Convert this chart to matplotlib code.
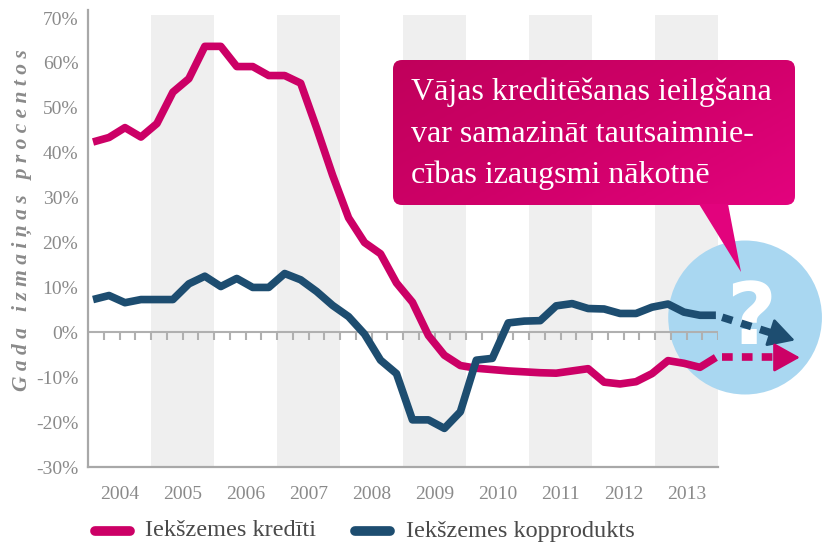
import numpy as np
import matplotlib
matplotlib.use("Agg")
import matplotlib.pyplot as plt
from matplotlib.patches import Ellipse, FancyBboxPatch, Polygon
from matplotlib.colors import LinearSegmentedColormap

# ---------------- data ----------------
years = [2004, 2005, 2006, 2007, 2008, 2009, 2010, 2011, 2012, 2013]
shaded_years = [2005, 2007, 2009, 2011, 2013]
quarters = np.arange(40)
t = 2004.08 + quarters * 0.2535

credit = [42.4, 43.4, 45.6, 43.5, 46.5, 53.5, 56.5, 63.7, 63.7, 59.2,
          59.2, 57.2, 57.2, 55.5, 45.5, 35.0, 25.5, 20.0, 17.5, 11.0,
          6.7, -0.7, -5.1, -7.4, -8.0, -8.3, -8.6, -8.8, -9.0, -9.1,
          -8.6, -8.1, -11.1, -11.5, -11.0, -9.2, -6.3, -6.9, -7.8, -5.6]
gdp = [7.3, 8.2, 6.6, 7.3, 7.3, 7.3, 10.8, 12.5, 10.2, 12.0,
       10.0, 10.0, 13.1, 11.7, 9.1, 6.0, 3.5, -0.4, -6.2, -9.2,
       -19.5, -19.5, -21.4, -17.7, -6.2, -5.8, 2.1, 2.5, 2.6, 5.9,
       6.4, 5.3, 5.2, 4.2, 4.2, 5.6, 6.3, 4.5, 3.8, 3.8]

yticks = list(range(-30, 71, 10))
ytick_labels = [f"{v}%" for v in yticks]
legend_labels = ["Iekšzemes kredīti", "Iekšzemes kopprodukts"]
callout_lines = ["Vājas kreditēšanas ieilgšana",
                 "var samazināt tautsaimnie-",
                 "cības izaugsmi nākotnē"]
ylabel = "G a d a   i z m a i ņ a s   p r o c e n t o s"

# projection arrows (end positions in years / percent)
gdp_proj_end = (2015.22, -1.8)
credit_proj_end_x = 2015.30

PINK = "#cc0066"
BLUE = "#1d4d70"
GRAY_TXT = "#8a8a8a"
AXIS = "#a8a8a8"
SERIF = ["Liberation Serif", "DejaVu Serif"]

W, H = 823, 545
fig = plt.figure(figsize=(W / 100, H / 100), dpi=100)
ax = fig.add_axes([88 / W, 1 - 467 / H, (718 - 88) / W, (467 - 10) / H])
ax.set_xlim(2004, 2014)
ax.set_ylim(-30, 71.8)

# bands
for y in shaded_years:
    ax.fill_between([y, y + 1], -30, 70.6, color="#efefef", lw=0, zorder=0)

for s in ["top", "right"]:
    ax.spines[s].set_visible(False)
for s in ["left", "bottom"]:
    ax.spines[s].set_color(AXIS)
    ax.spines[s].set_linewidth(1.6)

ax.set_yticks(yticks)
ax.set_yticklabels(ytick_labels, fontfamily=SERIF, fontsize=14, color=GRAY_TXT)
ax.set_xticks([y + 0.5 for y in years])
ax.set_xticklabels([str(y) for y in years], fontfamily=SERIF, fontsize=14, color=GRAY_TXT)
ax.tick_params(axis="y", length=0, pad=7)
ax.tick_params(axis="x", length=0, pad=14)

# circle behind projections
ax.add_patch(Ellipse((2014.43, 3.3), 2.44, 34.3, facecolor="#a9d7f1",
                     edgecolor="none", zorder=1.5, clip_on=False))

# zero line and quarter ticks
ax.axhline(0, color="#b0b0b0", lw=1.5, zorder=2)
ax.vlines(np.arange(2004, 2014.01, 0.25), -1.6, 0, color="#b0b0b0", lw=1.5, zorder=2)

ax.text(2014.52, -2.6, "?", ha="center", va="baseline", fontsize=62,
        fontweight="bold", color="white", family="DejaVu Sans", zorder=3)

# lines
ax.plot(t, credit, color=PINK, lw=5.5, zorder=4, solid_joinstyle="round",
        solid_capstyle="butt")
ax.plot(t, gdp, color=BLUE, lw=5.5, zorder=4, solid_joinstyle="round",
        solid_capstyle="butt")

# projection arrows
def proj(x0, y0, x1, y1, color):
    frac = 0.82
    xm = x0 + (x1 - x0) * frac
    ym = y0 + (y1 - y0) * frac
    ax.plot([x0 + 0.1, xm], [y0 + (y1 - y0) * 0.1 / (x1 - x0), ym], color=color,
            lw=5.5, ls=(0, (1.4, 1.2)), dash_capstyle="butt", zorder=4, clip_on=False)
    ax.annotate("", xy=(x1, y1), xytext=(xm - 0.05, ym - (y1 - y0) * 0.05 / (x1 - x0)),
                arrowprops=dict(arrowstyle="-|>,head_length=0.9,head_width=0.5",
                                color=color, lw=2, shrinkA=0, shrinkB=0,
                                mutation_scale=18),
                zorder=4, annotation_clip=False)

proj(t[-1], gdp[-1], gdp_proj_end[0], gdp_proj_end[1], BLUE)
proj(t[-1], credit[-1], credit_proj_end_x, credit[-1], PINK)

# y label
fig.text(22 / W, 1 - 220 / H, ylabel, rotation=90, ha="center", va="center",
         fontsize=15.5, fontstyle="italic", fontweight="bold", color=GRAY_TXT,
         family=SERIF)

# overlay for callout & legend (pixel coordinates)
ov = fig.add_axes([0, 0, 1, 1], zorder=5)
ov.set_xlim(0, W)
ov.set_ylim(H, 0)
ov.axis("off")
ov.patch.set_alpha(0)

bx, by, bw, bh = 393, 60, 402, 145
box = FancyBboxPatch((bx, by), bw, bh, boxstyle="round,pad=0,rounding_size=9",
                     facecolor="none", edgecolor="none")
ov.add_patch(box)
cmap = LinearSegmentedColormap.from_list("pk", ["#c0005b", "#cf0068", "#e3037e"])
gx, gy = np.meshgrid(np.linspace(0, 1, 200), np.linspace(0, 1, 100))
grad = 0.6 * gx + 0.4 * gy
im = ov.imshow(grad, cmap=cmap, extent=(bx, bx + bw, by + bh, by), origin="upper",
               aspect="auto", zorder=6)
im.set_clip_path(box)
ov.set_xlim(0, W)
ov.set_ylim(H, 0)
ov.add_patch(Polygon([(699, by + bh - 1), (728, by + bh - 1), (741, 272)],
                     closed=True, facecolor="#e2037d", edgecolor="none", zorder=6))
for i, line in enumerate(callout_lines):
    ov.text(411, 100 + i * 41.5, line, color="white", fontsize=23,
            family=SERIF, va="baseline", ha="left", zorder=7)

# legend
handles_colors = [PINK, BLUE]
leg_x = [(95, 130, 145), (355, 390, 406)]
for (x0, x1, xt), c, lab in zip(leg_x, handles_colors, legend_labels):
    ov.plot([x0, x1], [531, 531], color=c, lw=7, solid_capstyle="round", zorder=6)
    ov.text(xt, 531, lab, va="center", ha="left", fontsize=17.5, color="#4a4a4a",
            family=SERIF, zorder=6)

fig.savefig("out.png", dpi=100)
